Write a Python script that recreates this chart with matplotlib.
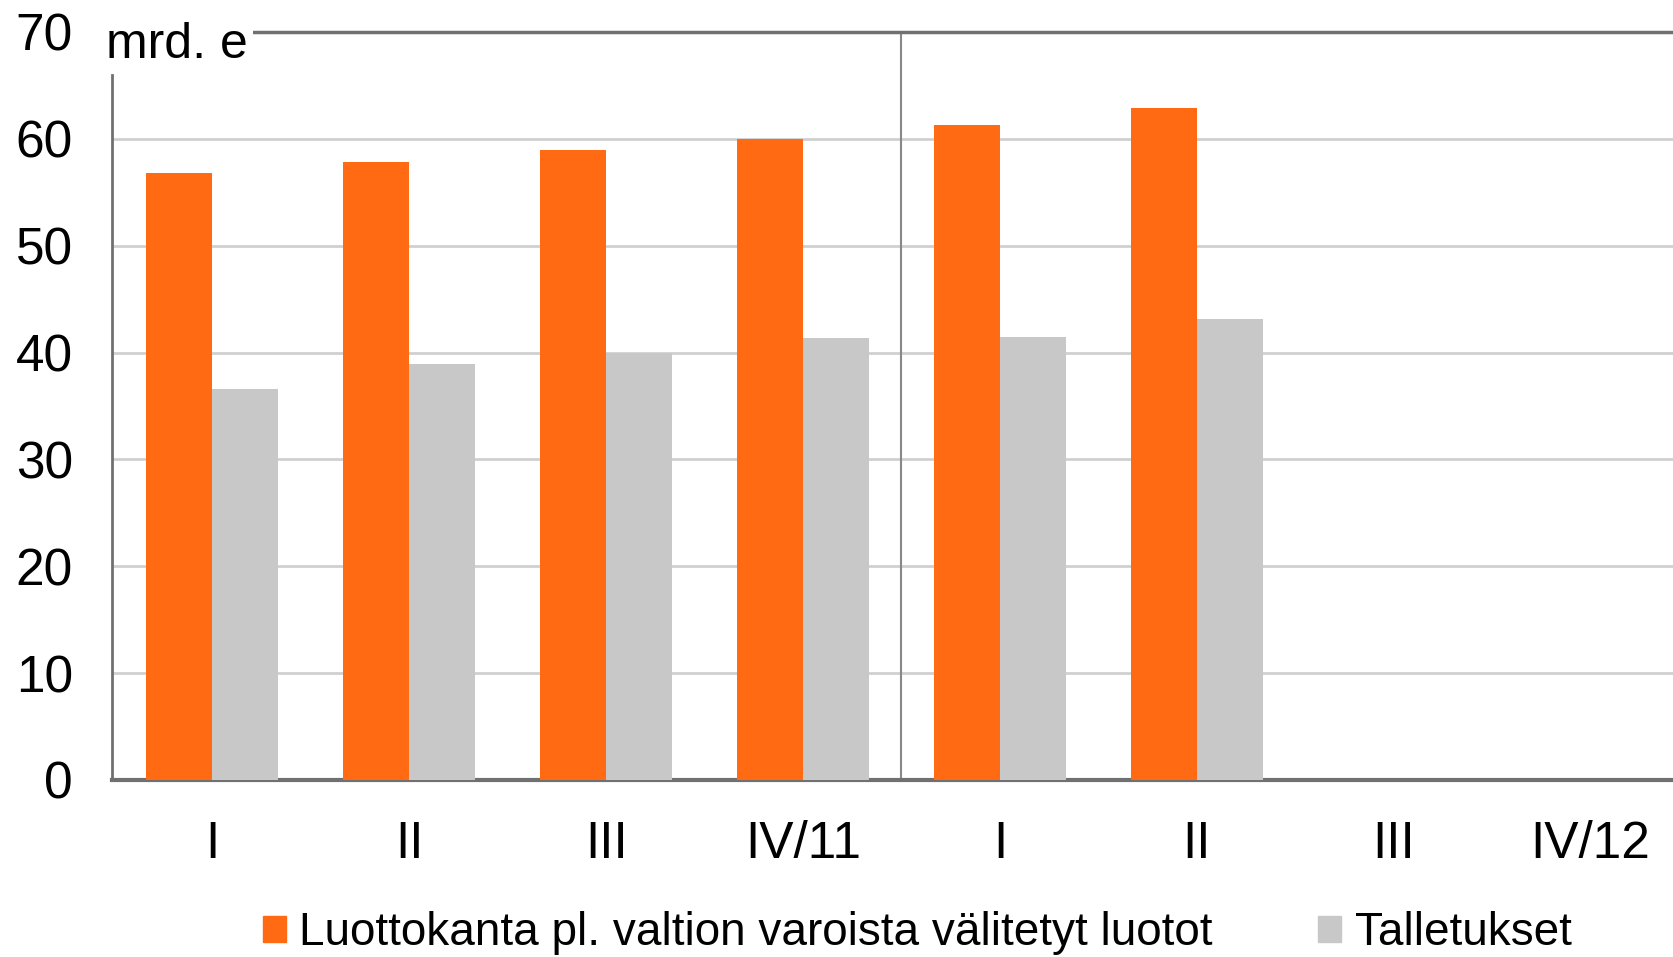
import numpy as np
import matplotlib.pyplot as plt
from matplotlib.patches import Patch

plt.rcParams['font.family'] = ['Liberation Sans', 'DejaVu Sans']

quarters = ['I', 'II', 'III', 'IV/11', 'I', 'II', 'III', 'IV/12']
luotot = [56.8, 57.8, 59.0, 60.0, 61.3, 62.9]
talletukset = [36.6, 38.9, 40.0, 41.4, 41.5, 43.1]

orange = '#ff6a13'
grey = '#c8c8c8'

fig = plt.figure(figsize=(16.74, 9.57), dpi=100)
ax = fig.add_axes([0.0669, 0.185, 0.935, 0.7816])

w = 0.335
x = np.arange(len(luotot))
ax.bar(x - w / 2, luotot, width=w, color=orange, zorder=3)
ax.bar(x + w / 2, talletukset, width=w, color=grey, zorder=3)

ax.set_xlim(-0.51, 7.44)
ax.set_ylim(0, 70)
ax.set_yticks(range(0, 71, 10))
ax.yaxis.grid(True, color='#d0d0d0', linewidth=2, zorder=0)
ax.set_xticks(range(len(quarters)))
ax.set_xticklabels(quarters)
ax.tick_params(axis='both', length=0, labelsize=37)
ax.tick_params(axis='x', pad=29)
ax.tick_params(axis='y', pad=28)

# year divider
ax.axvline(3.5, color='#888888', linewidth=1.5, zorder=2)

ax.spines['right'].set_visible(False)
ax.spines['left'].set_color('#707070')
ax.spines['left'].set_linewidth(2)
ax.spines['left'].set_bounds(0, 66)
ax.spines['bottom'].set_color('#707070')
ax.spines['bottom'].set_linewidth(3)
ax.spines['top'].set_color('#707070')
ax.spines['top'].set_linewidth(2.5)

ax.text(-0.54, 68.8, 'mrd. e', fontsize=36, va='center', ha='left',
        bbox=dict(facecolor='white', edgecolor='none', pad=4), zorder=10,
        clip_on=False)

handles = [Patch(color=orange, label='Luottokanta pl. valtion varoista välitetyt luotot'),
           Patch(color=grey, label='Talletukset')]
fig.legend(handles=handles, loc='center', bbox_to_anchor=(0.548, 0.025), ncol=2,
           frameon=False, fontsize=33, handlelength=0.5, handleheight=0.5,
           handletextpad=0.3, columnspacing=2.3, borderpad=0)

fig.savefig('out.png', dpi=100)
